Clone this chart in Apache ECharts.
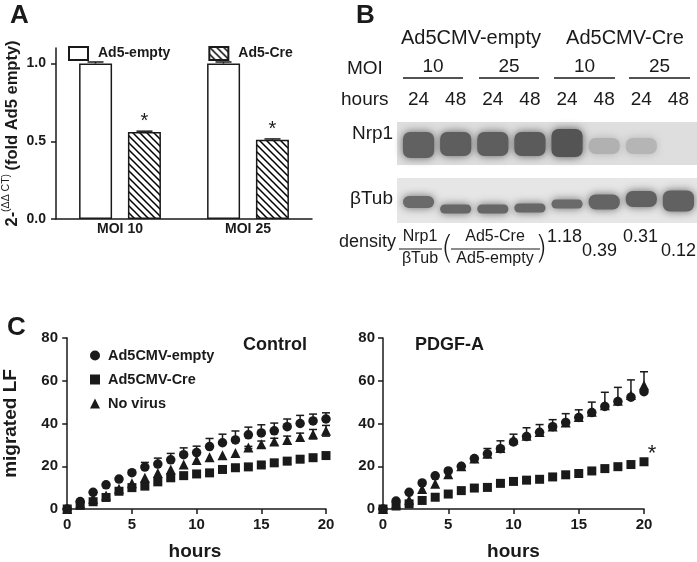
<!DOCTYPE html>
<html><head><meta charset="utf-8">
<script src="https://cdn.jsdelivr.net/npm/echarts@6/dist/echarts.min.js"></script>
<style>html,body{margin:0;padding:0;background:#fff}#c{width:697px;height:562px}</style>
</head><body><div id="c"></div>
<script>
// ---------- DATA ----------
// Panel A
const aCategories = ['MOI 10', 'MOI 25'];
const aEmpty = [1.0, 1.0];
const aEmptyErr = [0.01, 0.01];
const aCre = [0.56, 0.51];
const aCreErr = [0.005, 0.005];
// Panel B
const bGroups = ['Ad5CMV-empty', 'Ad5CMV-Cre'];
const bMoi = ['10', '25', '10', '25'];
const bHours = ['24', '48', '24', '48', '24', '48', '24', '48'];
const bRows = ['βTub', 'Nrp1'];
const nrp1Density = [0.86, 0.88, 0.88, 0.9, 0.95, 0.33, 0.3, 0.03];
const tubDensity = [0.8, 0.82, 0.82, 0.82, 0.8, 0.84, 0.86, 0.86];
const densityRatios = ['1.18', '0.39', '0.31', '0.12'];
// Panel C
const hours = [0,1,2,3,4,5,6,7,8,9,10,11,12,13,14,15,16,17,18,19,20];
const ctlEmpty = [0,3.5,7.8,11.3,14,17,19.6,21,23,25.4,26.4,29.2,31,32.3,34.7,35.6,36.6,38.5,40,41.2,42.1];
const ctlEmptyErr = [0,0,0,0,0,0,2.2,2.8,3,3.2,3,3.8,4,4.2,3.6,3.8,3.6,3.6,3.8,3.2,2.9];
const ctlCre = [0,1.7,3.4,5.4,8.3,10,10.7,12.7,14.6,15.6,16.4,16.9,18.5,19.3,19.7,20.6,21.6,22.4,23.3,24,25];
const ctlCreErr = [0,0,0,0,0,0,0,0,0,0,0,0,0,0,0,0.8,1.2,1.5,1.2,1.0,1.2];
const ctlNo = [0,2.6,4.8,6.3,9.5,12,14.6,16.8,18.5,20.8,22.9,24.2,25.1,26.2,28.8,30.3,31.6,32.3,33.7,35,36.6];
const ctlNoErr = [0,0,0,0,0,0,0,0,0,0,0,0,0,0,0.5,1.5,1.5,1.8,1.8,2.2,2.5];
const pdEmpty = [0,3.7,7.8,12.2,15.5,17.8,20,23.6,25.8,28.2,31.4,33.9,35.9,38.5,40.5,42.8,45.1,48,50.3,52.3,54.9];
const pdEmptyErr = [0,0,0,0,0,0,0,0,2.5,3.7,3.6,4.1,3.6,3.3,4.1,3.6,4.9,6.6,6.6,8.1,9.3];
const pdCre = [0,1.4,2.4,4.0,5.5,7.0,8.6,9.8,10.1,12,12.9,13.5,13.9,15,16,16.6,17.8,18.9,19.8,20.8,22.1];
const pdNo = [0,2.4,4.3,9.4,11.8,16.3,20,23.6,25.8,28.5,32.5,34.3,36,38.6,40.5,43,45.5,48.5,50.6,53.3,57.9];
const cTicks = [0, 5, 10, 15, 20];

// ---------- STYLE ----------
const FF = '"Liberation Sans", Arial, Helvetica, sans-serif';
const INK = '#1a1a1a';
const nrpBandH = [26, 24, 24, 24, 28, 16, 16, 14];
const nrpBandDy = [2, 1, 1, 1, 0, 3, 3, 3];
const tubBandH = [12, 9, 9, 9, 9, 15, 16, 21];
const tubBandDy = [-1, 6, 6, 5, 1, -1, -4, -2];

function hatch() {
  const s = 7, c = document.createElement('canvas');
  c.width = s; c.height = s;
  const g = c.getContext('2d');
  g.fillStyle = '#fff'; g.fillRect(0, 0, s, s);
  g.strokeStyle = '#000'; g.lineWidth = 1.5;
  g.beginPath();
  g.moveTo(-2, -2); g.lineTo(s + 2, s + 2);
  g.moveTo(-2, s - 2); g.lineTo(2, s + 2);
  g.moveTo(s - 2, -2); g.lineTo(s + 2, 2);
  g.stroke();
  return c;
}

function errRender(capW, upOnly) {
  return function (params, api) {
    const x = api.value(0), y = api.value(1), e = api.value(2);
    if (!e) return null;
    const hi = api.coord([x, y + e]);
    const lo = api.coord([x, upOnly ? y : y - e]);
    const st = { stroke: INK, lineWidth: 1.5 };
    const ch = [
      { type: 'line', shape: { x1: hi[0], y1: hi[1], x2: lo[0], y2: lo[1] }, style: st },
      { type: 'line', shape: { x1: hi[0] - capW, y1: hi[1], x2: hi[0] + capW, y2: hi[1] }, style: st }
    ];
    if (!upOnly) ch.push({ type: 'line', shape: { x1: lo[0] - capW, y1: lo[1], x2: lo[0] + capW, y2: lo[1] }, style: st });
    return { type: 'group', children: ch };
  };
}
function errData(xs, ys, es) { return ys.map((v, i) => [xs[i], v, es[i]]); }

function blotRender(params, api) {
  const lane = api.value(0), row = api.value(1), d = api.value(2);
  const c = api.coord([lane, row]);
  const bw = api.size([1, 0])[0] * 0.84;
  const h = row === 1 ? nrpBandH[lane] : tubBandH[lane];
  const dy = row === 1 ? nrpBandDy[lane] : tubBandDy[lane];
  const g = Math.round(226 - d * 150);
  const col = 'rgb(' + g + ',' + g + ',' + g + ')';
  return {
    type: 'rect',
    shape: { x: c[0] - bw / 2, y: c[1] - h / 2 + dy, width: bw, height: h, r: Math.min(h / 2, 7) },
    style: { fill: col, shadowBlur: 9, shadowColor: col }
  };
}

const axisLine = { show: true, lineStyle: { color: INK, width: 1.5 } };
const tick = { show: true, inside: false, length: 5, lineStyle: { color: INK, width: 1.5 } };

function cX(gi, min) {
  return {
    gridIndex: gi, type: 'value', min: min, max: 20,
    axisLine: axisLine,
    axisTick: { show: true, length: 5, lineStyle: { color: INK, width: 1.5 }, customValues: cTicks },
    axisLabel: { customValues: cTicks, margin: 8, fontFamily: FF, fontWeight: 'bold', fontSize: 15, color: INK },
    splitLine: { show: false },
    name: 'hours', nameLocation: 'middle', nameGap: 33,
    nameTextStyle: { fontFamily: FF, fontWeight: 'bold', fontSize: 19, color: INK }
  };
}
function cY(gi, extra) {
  return Object.assign({
    gridIndex: gi, type: 'value', min: 0, max: 80, interval: 20,
    axisLine: axisLine, axisTick: tick,
    axisLabel: { margin: 6, fontFamily: FF, fontWeight: 'bold', fontSize: 15, color: INK },
    splitLine: { show: false }
  }, extra || {});
}

const blotData = [];
nrp1Density.forEach((d, i) => blotData.push([i, 1, d]));
tubDensity.forEach((d, i) => blotData.push([i, 0, d]));

// ---------- GRAPHICS (panel letters, panel B text) ----------
const gfx = [];
function txt(t, x, y, size, opts) {
  gfx.push({
    type: 'text', x: x, y: y, z: 10,
    style: Object.assign({ text: t, fill: INK, font: 'normal ' + size + 'px ' + FF, textAlign: 'left', textVerticalAlign: 'middle' }, opts || {})
  });
}
txt('A', 10, 16, 26, { font: 'bold 26px ' + FF });
txt('B', 356, 16, 26, { font: 'bold 26px ' + FF });
txt('C', 7, 328, 26, { font: 'bold 26px ' + FF });
txt('Control', 243, 345, 18, { font: 'bold 18px ' + FF });
txt('PDGF-A', 415, 345, 18, { font: 'bold 18px ' + FF });
// blot backgrounds
gfx.push({ type: 'rect', z: 0, shape: { x: 397, y: 122, width: 300, height: 43 }, style: { fill: '#dedede' } });
gfx.push({ type: 'rect', z: 0, shape: { x: 397, y: 178, width: 300, height: 45 }, style: { fill: '#e6e6e6' } });
// group headers
txt(bGroups[0], 471, 38, 20, { textAlign: 'center' });
txt(bGroups[1], 625, 38, 20, { textAlign: 'center' });
txt('MOI', 347, 69, 19);
txt('hours', 341, 100, 19);
const moiLines = [[403, 463], [479, 539], [554, 615], [629, 690]];
moiLines.forEach((l, i) => {
  gfx.push({ type: 'line', z: 10, shape: { x1: l[0], y1: 78, x2: l[1], y2: 78 }, style: { stroke: INK, lineWidth: 1.6 } });
  txt(bMoi[i], (l[0] + l[1]) / 2, 67, 19, { textAlign: 'center' });
});
txt(bRows[1], 352, 134, 19);
txt(bRows[0], 350, 199, 19);
// density row
txt('density', 339, 242, 18);
txt('Nrp1', 420, 237, 16, { textAlign: 'center' });
gfx.push({ type: 'line', z: 10, shape: { x1: 399, y1: 249, x2: 442, y2: 249 }, style: { stroke: INK, lineWidth: 1.2 } });
txt('βTub', 420, 259, 16, { textAlign: 'center' });
txt('(', 441, 250, 32, { font: '200 32px "DejaVu Sans", ' + FF });
txt('Ad5-Cre', 495, 237, 16, { textAlign: 'center' });
gfx.push({ type: 'line', z: 10, shape: { x1: 451, y1: 249, x2: 540, y2: 249 }, style: { stroke: INK, lineWidth: 1.2 } });
txt('Ad5-empty', 495, 259, 16, { textAlign: 'center' });
txt(')', 535, 250, 32, { font: '200 32px "DejaVu Sans", ' + FF });
txt(densityRatios[0], 547, 237, 18);
txt(densityRatios[1], 582, 251, 18);
txt(densityRatios[2], 623, 237, 18);
txt(densityRatios[3], 661, 251, 18);

// ---------- CHART ----------
const chart = echarts.init(document.getElementById('c'), null, { renderer: 'canvas' });
const hatchImg = hatch();
chart.setOption({
  animation: false,
  backgroundColor: '#fff',
  graphic: { elements: gfx },
  legend: [
    {
      data: ['Ad5-empty', 'Ad5-Cre'], left: 68, top: 46, padding: 0, icon: 'rect',
      itemWidth: 19, itemHeight: 13, itemGap: 38,
      textStyle: { fontFamily: FF, fontWeight: 'bold', fontSize: 14, color: INK, padding: [0, 0, 0, 5] }
    },
    {
      data: [{ name: 'Ad5CMV-empty', icon: 'circle' }, { name: 'Ad5CMV-Cre', icon: 'rect' }, { name: 'No virus', icon: 'triangle' }],
      orient: 'vertical', left: 90, top: 348, padding: 0, itemWidth: 10, itemHeight: 10, itemGap: 9,
      textStyle: { fontFamily: FF, fontWeight: 'bold', fontSize: 14.5, color: INK, padding: [0, 0, 0, 3] }
    }
  ],
  grid: [
    { left: 55, top: 48, width: 257, height: 171 },
    { left: 400, top: 113, width: 297, height: 120 },
    { left: 62, top: 338, width: 264, height: 174 },
    { left: 383, top: 338, width: 261, height: 174 }
  ],
  xAxis: [
    {
      gridIndex: 0, type: 'category', data: aCategories,
      axisLine: axisLine, axisTick: { show: false },
      axisLabel: { margin: 3, fontFamily: FF, fontWeight: 'bold', fontSize: 14, color: INK }
    },
    {
      gridIndex: 1, type: 'category', data: bHours, position: 'top',
      axisLine: { show: false }, axisTick: { show: false },
      axisLabel: { margin: 4, fontFamily: FF, fontSize: 19, color: INK, interval: 0 }
    },
    cX(2, -0.25),
    cX(3, 0)
  ],
  yAxis: [
    {
      gridIndex: 0, type: 'value', min: 0, max: 1.1, interval: 0.5,
      axisLine: axisLine, axisTick: tick,
      axisLabel: { margin: 10, fontFamily: FF, fontWeight: 'bold', fontSize: 14, color: INK, showMaxLabel: false, formatter: v => v.toFixed(1) },
      splitLine: { show: false },
      name: '{b|2-}{s|(ΔΔ CT)} {b|(fold Ad5 empty)}', nameLocation: 'middle', nameGap: 35, nameRotate: 90,
      nameTextStyle: {
        rich: {
          b: { fontFamily: FF, fontWeight: 'bold', fontSize: 16.5, color: INK, lineHeight: 20, verticalAlign: 'bottom' },
          s: { fontFamily: FF, fontSize: 10.5, color: INK, lineHeight: 20, verticalAlign: 'top' }
        }
      }
    },
    { gridIndex: 1, type: 'category', data: bRows, show: false },
    cY(2, {
      name: 'migrated LF', nameLocation: 'middle', nameGap: 44, nameRotate: 90,
      nameTextStyle: { fontFamily: FF, fontWeight: 'bold', fontSize: 19, color: INK }
    }),
    cY(3, { axisLabel: { margin: 8, fontFamily: FF, fontWeight: 'bold', fontSize: 15, color: INK } })
  ],
  series: [
    // Panel A
    {
      name: 'Ad5-empty', type: 'bar', xAxisIndex: 0, yAxisIndex: 0, data: aEmpty,
      barWidth: 33, barGap: '48%',
      itemStyle: { color: '#fff', borderColor: INK, borderWidth: 1.5 }
    },
    {
      name: 'Ad5-Cre', type: 'bar', xAxisIndex: 0, yAxisIndex: 0, data: aCre,
      barWidth: 33,
      itemStyle: { color: { image: hatchImg, repeat: 'repeat' }, borderColor: INK, borderWidth: 1.5 },
      label: { show: true, position: 'top', distance: 0, formatter: '*', fontFamily: FF, fontSize: 20, color: INK }
    },
    {
      type: 'custom', xAxisIndex: 0, yAxisIndex: 0, z: 5,
      data: aEmpty.map((v, i) => [i, v, aEmptyErr[i], 0]).concat(aCre.map((v, i) => [i, v, aCreErr[i], 1])),
      renderItem: function (params, api) {
        const i = api.value(0), v = api.value(1), e = api.value(2), s = api.value(3);
        const base = api.coord([i, v]);
        const off = s === 0 ? -24.5 : 24.5;
        const top = api.coord([i, v + e]);
        const x = base[0] + off;
        return {
          type: 'group', children: [
            { type: 'line', shape: { x1: x, y1: top[1], x2: x, y2: base[1] }, style: { stroke: INK, lineWidth: 1.5 } },
            { type: 'line', shape: { x1: x - 8, y1: top[1], x2: x + 8, y2: top[1] }, style: { stroke: INK, lineWidth: 1.5 } }
          ]
        };
      }
    },
    // Panel B blot
    { type: 'custom', xAxisIndex: 1, yAxisIndex: 1, z: 3, data: blotData, renderItem: blotRender, silent: true },
    // Panel C - Control
    { type: 'custom', xAxisIndex: 2, yAxisIndex: 2, z: 2, data: errData(hours, ctlEmpty, ctlEmptyErr), renderItem: errRender(4, true) },
    { type: 'custom', xAxisIndex: 2, yAxisIndex: 2, z: 2, data: errData(hours, ctlCre, ctlCreErr), renderItem: errRender(4, false) },
    { type: 'custom', xAxisIndex: 2, yAxisIndex: 2, z: 2, data: errData(hours, ctlNo, ctlNoErr), renderItem: errRender(4, false) },
    {
      name: 'Ad5CMV-empty', type: 'scatter', xAxisIndex: 2, yAxisIndex: 2, z: 4,
      data: hours.map((h, i) => [h, ctlEmpty[i]]), symbol: 'circle', symbolSize: 9.5,
      itemStyle: { color: INK, opacity: 1 }
    },
    {
      name: 'Ad5CMV-Cre', type: 'scatter', xAxisIndex: 2, yAxisIndex: 2, z: 4,
      data: hours.map((h, i) => [h, ctlCre[i]]), symbol: 'rect', symbolSize: 9,
      itemStyle: { color: INK, opacity: 1 }
    },
    {
      name: 'No virus', type: 'scatter', xAxisIndex: 2, yAxisIndex: 2, z: 4,
      data: hours.map((h, i) => [h, ctlNo[i]]), symbol: 'triangle', symbolSize: 10,
      itemStyle: { color: INK, opacity: 1 }
    },
    // Panel C - PDGF-A
    { type: 'custom', xAxisIndex: 3, yAxisIndex: 3, z: 2, data: errData(hours, pdEmpty, pdEmptyErr), renderItem: errRender(4, true) },
    {
      name: 'No virus', type: 'scatter', xAxisIndex: 3, yAxisIndex: 3, z: 4,
      data: hours.map((h, i) => [h, pdNo[i]]), symbol: 'triangle', symbolSize: 10,
      itemStyle: { color: INK, opacity: 1 }
    },
    {
      name: 'Ad5CMV-empty', type: 'scatter', xAxisIndex: 3, yAxisIndex: 3, z: 4,
      data: hours.map((h, i) => [h, pdEmpty[i]]), symbol: 'circle', symbolSize: 9.5,
      itemStyle: { color: INK, opacity: 1 }
    },
    {
      name: 'Ad5CMV-Cre', type: 'scatter', xAxisIndex: 3, yAxisIndex: 3, z: 4,
      data: hours.map((h, i) => [h, pdCre[i]]), symbol: 'rect', symbolSize: 9,
      itemStyle: { color: INK, opacity: 1 },
      markPoint: {
        symbol: 'circle', symbolSize: 0,
        data: [{ coord: [20, pdCre[20]], label: { show: true, formatter: '*', offset: [8, -8], fontFamily: FF, fontSize: 22, color: INK } }]
      }
    }
  ]
});
</script></body></html>
